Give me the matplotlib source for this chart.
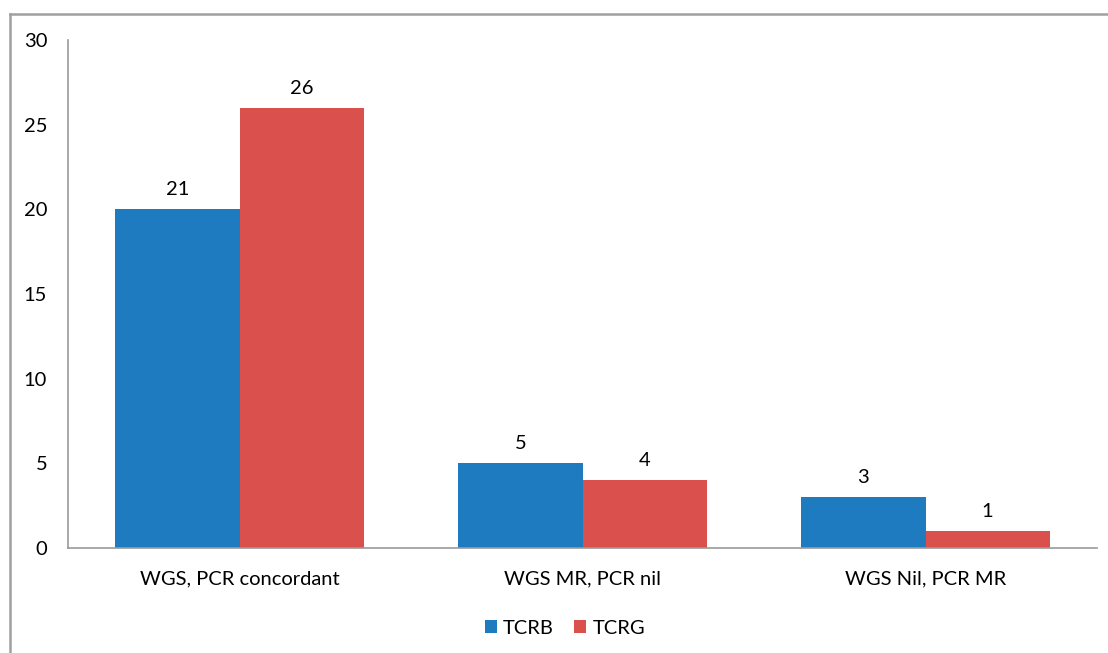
import matplotlib
matplotlib.use("Agg")
import matplotlib.pyplot as plt
from matplotlib.lines import Line2D
import numpy as np

categories = ["WGS, PCR concordant", "WGS MR, PCR nil", "WGS Nil, PCR MR"]
series_names = ["TCRB", "TCRG"]
tcrb = [20, 5, 3]
tcrg = [26, 4, 1]
tcrb_labels = ["21", "5", "3"]
tcrg_labels = ["26", "4", "1"]
colors = ["#1F7BBF", "#D9504C"]

plt.rcParams['font.family'] = ['Lato', 'DejaVu Sans']
FS = 14.5

fig = plt.figure(figsize=(11.08, 6.53), dpi=100)
ax = fig.add_axes([68/1108, 1-548/653, (1097-68)/1108, (548-40)/653])

x = np.arange(len(categories))
w = 0.362
b1 = ax.bar(x - w/2, tcrb, width=w, color=colors[0], label=series_names[0])
b2 = ax.bar(x + w/2, tcrg, width=w, color=colors[1], label=series_names[1])

for bars, labs in ((b1, tcrb_labels), (b2, tcrg_labels)):
    for r, lab in zip(bars, labs):
        ax.annotate(lab, (r.get_x() + r.get_width()/2, r.get_height()),
                    xytext=(0, 8), textcoords="offset points",
                    ha="center", va="bottom", fontsize=FS)

ax.set_xlim(-0.5, 2.5)
ax.set_ylim(0, 30)
ax.set_yticks([0, 5, 10, 15, 20, 25, 30])
ax.set_xticks(x)
ax.set_xticklabels(categories, fontsize=FS)
ax.tick_params(axis='y', labelsize=FS, length=0, pad=15)
ax.tick_params(axis='x', length=0, pad=16)
for s in ["top", "right"]:
    ax.spines[s].set_visible(False)
for s in ["left", "bottom"]:
    ax.spines[s].set_color("#9a9a9a")
    ax.spines[s].set_linewidth(1.2)

leg = fig.legend(handles=[b1, b2], labels=series_names, loc="center",
                 bbox_to_anchor=(565/1108, 1-628/653), ncol=2, frameon=False,
                 fontsize=FS, handlelength=0.6, handleheight=0.6,
                 handletextpad=0.3, columnspacing=1.0)

# figure frame lines (top and left)
fig.add_artist(Line2D([10/1108, 1], [1-13.5/653, 1-13.5/653], transform=fig.transFigure,
                      color="#a0a0a0", lw=1.8))
fig.add_artist(Line2D([10/1108, 10/1108], [0, 1-13.5/653], transform=fig.transFigure,
                      color="#a0a0a0", lw=1.8))

fig.savefig("out.png", dpi=100)
